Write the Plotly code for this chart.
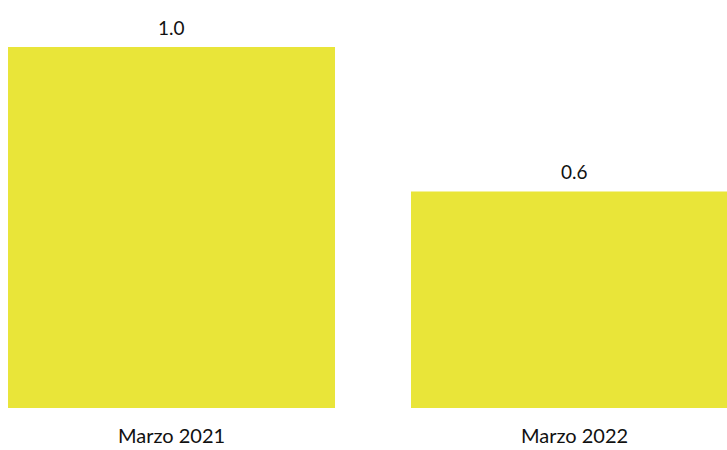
import plotly.graph_objects as go

categories = ["Marzo 2021", "Marzo 2022"]
values = [1.0, 0.6]
value_labels = ["1.0", "0.6"]

BAR_COLOR = "#E9E539"
FONT = "Lato"
TEXT_COLOR = "#111111"

fig = go.Figure()
fig.add_trace(go.Bar(
    x=[0, 1], y=values, width=0.8114,
    marker=dict(color=BAR_COLOR, line=dict(width=0)),
    hoverinfo="skip",
))

for i, (v, t) in enumerate(zip(values, value_labels)):
    fig.add_annotation(x=i, y=v, text=t, showarrow=False, yanchor="bottom",
                       yshift=6, font=dict(family=FONT, size=19, color=TEXT_COLOR))

fig.update_layout(
    width=727, height=450,
    margin=dict(l=0, r=0, t=0, b=42),
    paper_bgcolor="white", plot_bgcolor="white",
    showlegend=False,
    xaxis=dict(range=[-0.4256, 1.3784], tickmode="array", tickvals=[0, 1],
               ticktext=categories, showgrid=False, zeroline=False, showline=False,
               ticks="outside", ticklen=10, tickcolor="rgba(0,0,0,0)",
               tickfont=dict(family=FONT, size=20, color=TEXT_COLOR)),
    yaxis=dict(range=[0, 1.1302], visible=False, showgrid=False, zeroline=False),
)

fig.write_html("out.html", config={"displayModeBar": False, "staticPlot": True},
               post_script="document.body.style.margin='0';document.body.style.overflow='hidden';")
